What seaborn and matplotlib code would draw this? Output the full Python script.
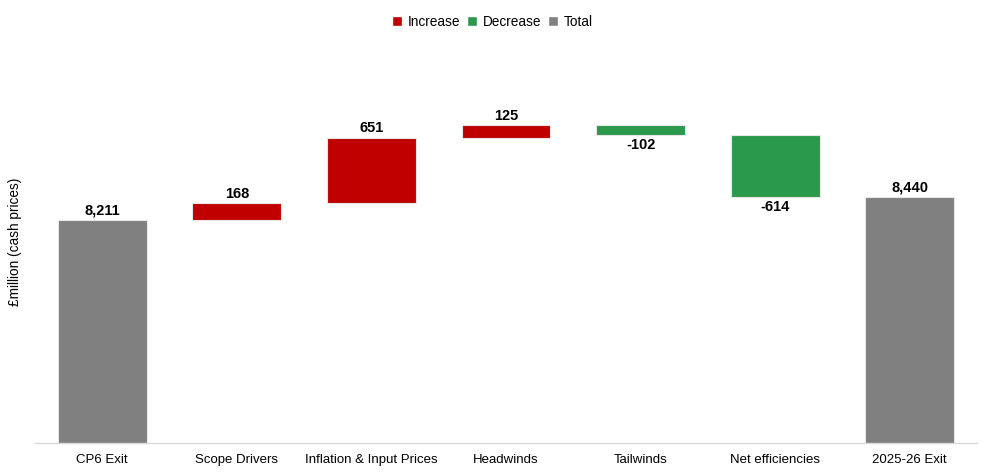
import matplotlib
matplotlib.use("Agg")
import matplotlib.pyplot as plt
import seaborn as sns
import numpy as np
from matplotlib.patches import Patch

categories = ["CP6 Exit", "Scope Drivers", "Inflation & Input Prices", "Headwinds",
              "Tailwinds", "Net efficiencies", "2025-26 Exit"]
values = [8211, 168, 651, 125, -102, -614, 8440]
kinds = ["Total", "Increase", "Increase", "Increase", "Decrease", "Decrease", "Total"]
labels = ["8,211", "168", "651", "125", "-102", "-614", "8,440"]

colors = {"Increase": "#C00000", "Decrease": "#2A994B", "Total": "#808080"}

# floating bars: bottom + height
bottoms, heights = [], []
running = 0
for v, k in zip(values, kinds):
    if k == "Total":
        bottoms.append(0)
        heights.append(v)
        running = v
    else:
        lo = running if v > 0 else running + v
        bottoms.append(lo)
        heights.append(abs(v))
        running += v

sns.set_theme(style="white")
plt.rcParams["font.family"] = ["Liberation Sans", "DejaVu Sans"]
plt.rcParams["text.color"] = "black"
plt.rcParams["axes.labelcolor"] = "black"
plt.rcParams["xtick.color"] = "black"

fig = plt.figure(figsize=(9.85, 4.73), dpi=100)
ax = fig.add_axes([35 / 985, 30 / 473, 942 / 985, 403 / 473])

sns.barplot(x=categories, y=heights, bottom=bottoms, order=categories,
            color="#808080", width=0.66, edgecolor="#e6e6e6", linewidth=0.8, ax=ax)
for patch, k in zip(ax.patches, kinds):
    patch.set_facecolor(colors[k])

for i, (b, h, k, lab) in enumerate(zip(bottoms, heights, kinds, labels)):
    if k == "Decrease":
        ax.text(i, b - 25, lab, ha="center", va="top", fontsize=10.5, fontweight="bold")
    else:
        ax.text(i, b + h + 25, lab, ha="center", va="bottom", fontsize=10.5, fontweight="bold")

ax.set_ylim(6000, 10000)
ax.set_xlim(-0.5, 6.5)
ax.set_yticks([])
ax.set_ylabel("£million (cash prices)", fontsize=9.8, labelpad=9)
ax.tick_params(axis="x", length=0, pad=8, labelsize=9.5)
for s in ["top", "right", "left"]:
    ax.spines[s].set_visible(False)
ax.spines["bottom"].set_color("#d9d9d9")
ax.spines["bottom"].set_linewidth(1)

handles = [Patch(facecolor=colors[k], label=k) for k in ["Increase", "Decrease", "Total"]]
fig.legend(handles=handles, loc="upper center", bbox_to_anchor=(0.5, 0.995), ncol=3,
           frameon=False, fontsize=9.8, handlelength=0.75, handleheight=0.75,
           handletextpad=0.4, columnspacing=0.5)

fig.savefig("out.png", dpi=100)
